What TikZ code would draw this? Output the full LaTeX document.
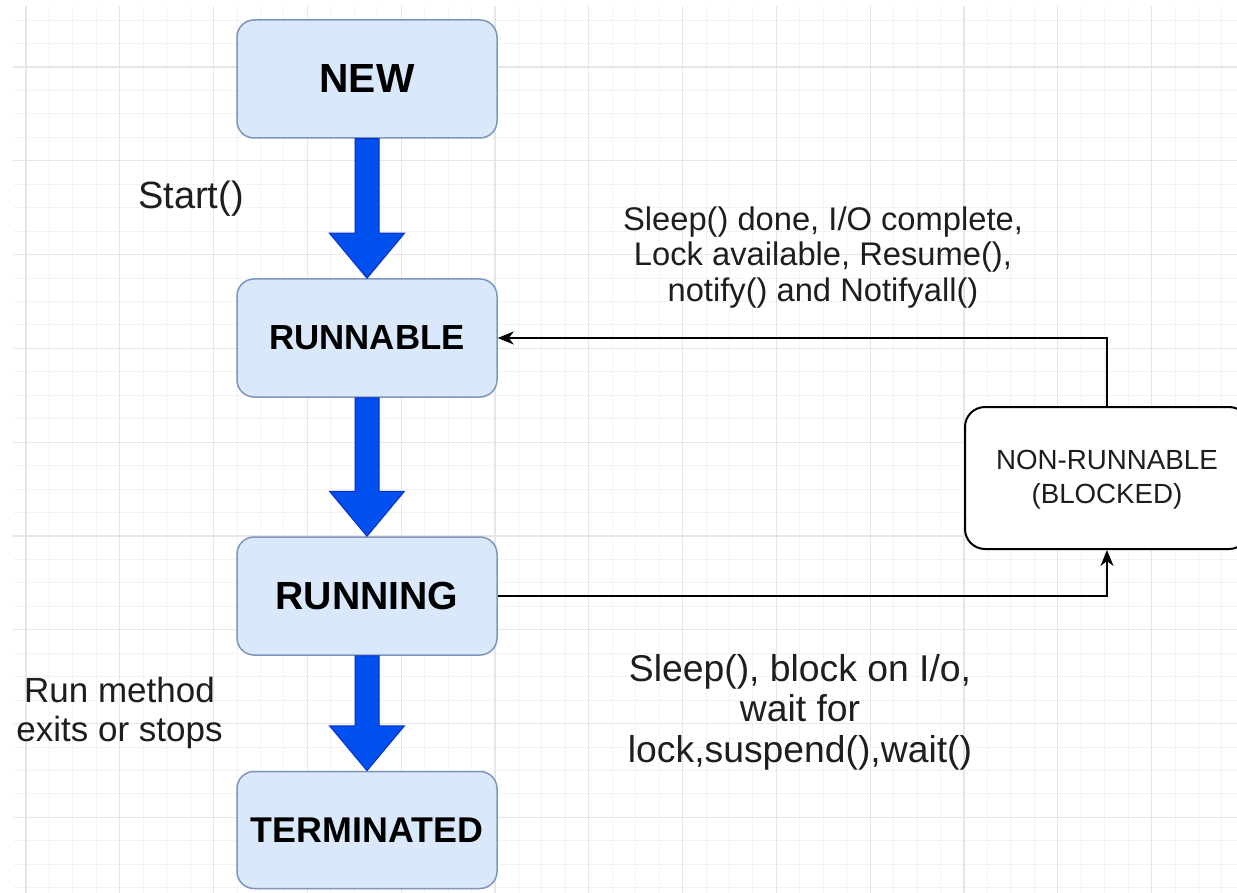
\documentclass[tikz,border=0pt]{standalone}
\usepackage{fontspec}
\setmainfont{Liberation Sans}
\usetikzlibrary{arrows.meta,calc}
\definecolor{gridminor}{HTML}{F3F3F3}
\definecolor{gridmajor}{HTML}{E6E6E6}
\definecolor{boxfill}{HTML}{DAE8FC}
\definecolor{boxline}{HTML}{7F96BA}
\definecolor{arrowfill}{HTML}{0050EF}
\definecolor{arrowline}{HTML}{0A2FC8}
\definecolor{txt}{HTML}{1E1E1E}
\tikzset{
  statebox/.style={rectangle, rounded corners=17pt, draw=boxline, fill=boxfill, line width=1.5pt,
    minimum width=260pt, minimum height=118pt, inner sep=0pt, text=black},
  blockbox/.style={rectangle, rounded corners=20pt, draw=black, fill=white, line width=2pt,
    minimum width=284pt, minimum height=142pt, inner sep=0pt},
  conn/.style={draw=black, line width=2pt, -{Stealth[length=16pt,width=13pt,inset=5pt]}},
  bigarrow/.style={fill=arrowfill, draw=arrowline, line width=1pt, line join=miter},
  lbl/.style={align=center, text=txt, inner sep=0pt}
}
\newcommand{\blockarrow}[2]{%
  \filldraw[bigarrow] ($(#1.south)+(-12,0)$) -- ($(#2.north)+(-12,-45)$) -- ($(#2.north)+(-37.5,-45)$)
    -- (#2.north) -- ($(#2.north)+(37.5,-45)$) -- ($(#2.north)+(12,-45)$) -- ($(#1.south)+(12,0)$) -- cycle;}
\begin{document}
\begin{tikzpicture}[x=1pt,y=-1pt]
\useasboundingbox (0,0) rectangle (1237,893);
\fill[white] (0,0) rectangle (1237,893);
% grid
\begin{scope}
\clip (13,7) rectangle (1237,893);
\foreach \i in {0,...,53} {
  \pgfmathsetmacro{\gx}{2.55+\i*23.45}
  \draw[gridminor, line width=1pt] (\gx,0) -- (\gx,893);
}
\foreach \j in {0,...,38} {
  \pgfmathsetmacro{\gy}{20.1+\j*23.45}
  \draw[gridminor, line width=1pt] (0,\gy) -- (1237,\gy);
}
\foreach \i in {0,...,13} {
  \pgfmathsetmacro{\gx}{26+\i*93.8}
  \draw[gridmajor, line width=1.2pt] (\gx,0) -- (\gx,893);
}
\foreach \j in {0,...,9} {
  \pgfmathsetmacro{\gy}{-26.8+\j*93.8}
  \draw[gridmajor, line width=1.2pt] (0,\gy) -- (1237,\gy);
}
\end{scope}
% state boxes
\node[statebox, font=\fontsize{40.7}{44}\selectfont\bfseries] (new) at (367,79) {NEW};
\node[statebox, font=\fontsize{34.8}{38}\selectfont\bfseries] (runnable) at (367,338) {RUNNABLE};
\node[statebox, font=\fontsize{39.2}{42}\selectfont\bfseries] (running) at (367,596) {RUNNING};
\node[statebox, minimum height=117pt, font=\fontsize{35.8}{39}\selectfont\bfseries] (terminated) at (367,830) {TERMINATED};
\node[blockbox] (blocked) at (1107,478) {};
\node[lbl, font=\fontsize{27.7}{34}\selectfont] (blockedtext) at (1107,480) {NON-RUNNABLE\\(BLOCKED)};
% big blue arrows
\blockarrow{new}{runnable}
\blockarrow{runnable}{running}
\blockarrow{running}{terminated}
% connectors
\draw[conn] (blocked.north) |- (runnable.east);
\draw[conn] (running.east) -| (blocked.south);
% labels
\node[lbl, font=\fontsize{38}{42}\selectfont] (start) at (191,199) {Start()};
\node[lbl, font=\fontsize{32.7}{35.5}\selectfont] (wake) at (823,257.5) {Sleep() done, I/O complete,\\Lock available, Resume(),\\notify() and Notifyall()};
\node[lbl, font=\fontsize{37.3}{40.5}\selectfont] (sleep) at (800,712) {Sleep(), block on I/o,\\wait for\\lock,suspend(),wait()};
\node[lbl, font=\fontsize{35}{39}\selectfont] (exit) at (119.5,712.5) {Run method\\exits or stops};
\end{tikzpicture}
\end{document}
